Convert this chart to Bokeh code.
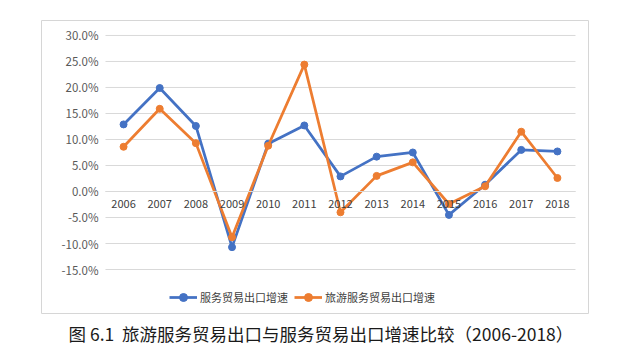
from bokeh.plotting import figure
from bokeh.models import (Range1d, FixedTicker, LinearAxis, Legend, LegendItem, Title)
from bokeh.core.properties import value
from bokeh.embed import file_html
from bokeh.resources import INLINE

years = ["2006", "2007", "2008", "2009", "2010", "2011", "2012",
         "2013", "2014", "2015", "2016", "2017", "2018"]
services = [12.9, 19.9, 12.6, -10.7, 9.2, 12.7, 2.9, 6.7, 7.5, -4.5, 1.3, 8.0, 7.7]
tourism = [8.6, 15.9, 9.3, -8.8, 8.8, 24.4, -4.0, 3.0, 5.6, -2.4, 1.0, 11.5, 2.6]
y_ticks = [-15, -10, -5, 0, 5, 10, 15, 20, 25, 30]
y_labels = ["%.1f%%" % t for t in y_ticks]
series_names = ["服务贸易出口增速", "旅游服务贸易出口增速"]
caption = "图 6.1\u00a0\u00a0旅游服务贸易出口与服务贸易出口增速比较（2006-2018）"

BLUE = "#4472C4"
ORANGE = "#ED7D31"
FONT = "Noto Sans CJK SC"
GRID = "#D9D9D9"

xs = list(range(len(years)))
n = len(years)
first, last = -0.5, n - 0.5

W, H = 640, 362
p = figure(width=W, height=H,
           x_range=Range1d(-2.27, 12.86), y_range=Range1d(-23.46, 32.88),
           output_backend="svg", toolbar_location=None,
           x_axis_location=None, y_axis_location=None,
           min_border_left=41, min_border_right=52, min_border_top=20, min_border_bottom=49)
p.outline_line_color = "#D6D6D6"
p.outline_line_width = 1
p.background_fill_color = "white"
p.border_fill_color = "white"
p.xgrid.visible = False
p.ygrid.visible = False

# horizontal gridlines across the plot area
p.segment(x0=[first] * len(y_ticks), x1=[last] * len(y_ticks), y0=y_ticks, y1=y_ticks,
          line_color=GRID, line_width=1)

# y tick labels
p.text(x=[first] * len(y_ticks), y=y_ticks, text=y_labels,
       text_font=value(FONT), text_font_size="11.5px", text_color="#595959",
       text_align="right", text_baseline="middle", x_offset=-7)

# category axis crossing at zero
xaxis = LinearAxis(fixed_location=0, bounds=(first, last),
                   ticker=FixedTicker(ticks=xs),
                   major_label_overrides={i: y for i, y in enumerate(years)})
xaxis.axis_line_color = GRID
xaxis.axis_line_width = 1
xaxis.major_tick_line_color = None
xaxis.minor_tick_line_color = None
xaxis.major_tick_out = 0
xaxis.major_tick_in = 0
xaxis.major_label_text_font = FONT
xaxis.major_label_text_font_size = "11px"
xaxis.major_label_text_color = "#404040"
xaxis.major_label_standoff = 9
p.add_layout(xaxis, "below")

l1 = p.line(xs, services, line_color=BLUE, line_width=2.75)
c1 = p.scatter(xs, services, size=7, fill_color=BLUE, line_color=BLUE)
l2 = p.line(xs, tourism, line_color=ORANGE, line_width=2.75)
c2 = p.scatter(xs, tourism, size=7, fill_color=ORANGE, line_color=ORANGE)

legend = Legend(items=[LegendItem(label=series_names[0], renderers=[l1, c1]),
                       LegendItem(label=series_names[1], renderers=[l2, c2])],
                orientation="horizontal", location=(128, 6),
                label_text_font=FONT, label_text_font_size="11px",
                label_text_color="#404040", background_fill_alpha=0,
                border_line_color=None, glyph_width=28, label_standoff=3,
                spacing=6, padding=2, margin=0)
p.add_layout(legend, "center")

title = Title(text=caption, align="left", offset=27, standoff=11,
              text_font=FONT, text_font_size="17.5px", text_font_style="normal",
              text_color="#1A1A1A")
p.add_layout(title, "below")

open("out.html", "w").write(file_html(p, INLINE))
